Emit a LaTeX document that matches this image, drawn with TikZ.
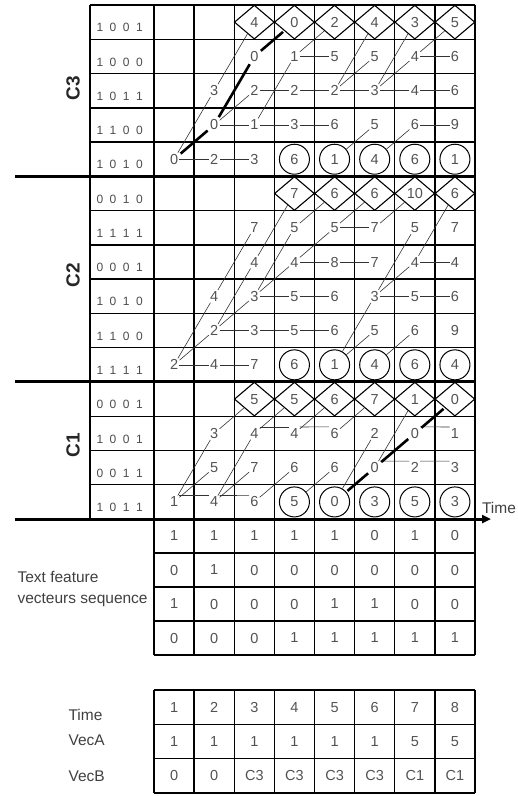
\documentclass[tikz,border=0pt]{standalone}
\usepackage{fontspec}
\setmainfont{Liberation Sans}
\usetikzlibrary{arrows.meta, shapes.geometric}
\tikzset{%
   num/.style={
      inner sep=1.2pt,
      text=black!68,
      font=\fontsize{14.5}{16}\selectfont
   },
   dia/.style={
      num,
      diamond,
      draw=black,
      line width=1.1pt,
      minimum width=40pt,
      minimum height=34pt,
      inner sep=0pt
   },
   ring/.style={
      num,
      circle,
      draw=black,
      line width=1pt,
      minimum size=30pt,
      inner sep=0pt
   },
   bits/.style={
      anchor=west,
      text=black!70,
      font=\fontsize{12}{14}\selectfont,
      execute at begin node={\spaceskip=6.5pt\relax}
   },
   block/.style={
      rotate=90,
      text=black!85,
      font=\fontsize{19}{22}\selectfont\bfseries
   },
   rowname/.style={
      anchor=west,
      text=black!75,
      font=\fontsize{15.5}{21}\selectfont
   },
   gridline/.style={line width=1.4pt, black},
   sepline/.style={line width=3pt, black},
   link/.style={line width=0.6pt, black!80},
   best/.style={line width=2.6pt, black, shorten <=1.5pt, shorten >=1.5pt},
}

\begin{document}
\begin{tikzpicture}[x=1pt, y=-1pt]
  \useasboundingbox (0,0) rectangle (518,796);

  % trellis grid
  \foreach \k in {0,...,15}
    \draw[gridline] (90,{5+34.27*\k}) -- (475,{5+34.27*\k});
  \draw[gridline] (90,5) -- (90,519);
  \foreach \k in {0,...,8}
    \draw[gridline] ({154+40.125*\k},5) -- ({154+40.125*\k},519);
  \draw[sepline] (15,{5+34.27*5}) -- (475,{5+34.27*5});
  \draw[sepline] (15,{5+34.27*11}) -- (475,{5+34.27*11});

  % time axis
  \coordinate (ax0) at (15,519);
  \coordinate (ax1) at (491,519);
  \draw[sepline, -{Triangle[length=9pt, width=8pt]}] (ax0) -- (ax1);
  \node[rowname, anchor=center] (timeaxis) at (499,508) {Time};

  % block names and row codes
  \node[block] (C3) at (73,88) {C3};
  \node[block] (C2) at (73,275) {C2};
  \node[block] (C1) at (73,445) {C1};
  \foreach \r/\b in {1/1 0 0 1, 2/1 0 0 0, 3/1 0 1 1, 4/1 1 0 0, 5/1 0 1 0,
                     6/0 0 1 0, 7/1 1 1 1, 8/0 0 0 1, 9/1 0 1 0, 10/1 1 0 0, 11/1 1 1 1,
                     12/0 0 0 1, 13/1 0 0 1, 14/0 0 1 1, 15/1 0 1 1}
    \node[bits] (code\r) at (93,{5+34.27*(\r-0.5)+5.5}) {\b};

  % cell values
  \foreach \r/\c/\v in {2/3/0, 2/4/1, 2/5/5, 2/6/5, 2/7/4, 2/8/6,
                        3/2/3, 3/3/2, 3/4/2, 3/5/2, 3/6/3, 3/7/4, 3/8/6,
                        4/2/0, 4/3/1, 4/4/3, 4/5/6, 4/6/5, 4/7/6, 4/8/9,
                        5/1/0, 5/2/2, 5/3/3,
                        7/3/7, 7/4/5, 7/5/5, 7/6/7, 7/7/5, 7/8/7,
                        8/3/4, 8/4/4, 8/5/8, 8/6/7, 8/7/4, 8/8/4,
                        9/2/4, 9/3/3, 9/4/5, 9/5/6, 9/6/3, 9/7/5, 9/8/6,
                        10/2/2, 10/3/3, 10/4/5, 10/5/6, 10/6/5, 10/7/6, 10/8/9,
                        11/1/2, 11/2/4, 11/3/7,
                        13/2/3, 13/3/4, 13/4/4, 13/5/6, 13/6/2, 13/7/0, 13/8/1,
                        14/2/5, 14/3/7, 14/4/6, 14/5/6, 14/6/0, 14/7/2, 14/8/3,
                        15/1/1, 15/2/4, 15/3/6}
    \node[num] (n\r-\c) at ({154+40.125*(\c-0.5)},{5+34.27*(\r-0.5)}) {\v};
  \foreach \r/\c/\v in {1/3/4, 1/4/0, 1/5/2, 1/6/4, 1/7/3, 1/8/5,
                        6/4/7, 6/5/6, 6/6/6, 6/7/10, 6/8/6,
                        12/3/5, 12/4/5, 12/5/6, 12/6/7, 12/7/1, 12/8/0}
    \node[dia] (n\r-\c) at ({154+40.125*(\c-0.5)},{5+34.27*(\r-0.5)}) {\v};
  \foreach \r/\c/\v in {5/4/6, 5/5/1, 5/6/4, 5/7/6, 5/8/1,
                        11/4/6, 11/5/1, 11/6/4, 11/7/6, 11/8/4,
                        15/4/5, 15/5/0, 15/6/3, 15/7/5, 15/8/3}
    \node[ring] (n\r-\c) at ({154+40.125*(\c-0.5)},{5+34.27*(\r-0.5)}) {\v};

  % links within a row
  \foreach \r/\a/\b in {2/4/5, 2/7/8, 3/3/4, 3/4/5, 3/5/6, 3/6/7, 3/7/8,
                        4/2/3, 4/3/4, 4/4/5, 4/7/8, 5/1/2, 5/2/3,
                        7/5/6, 8/4/5, 8/5/6, 8/7/8, 9/3/4, 9/4/5, 9/6/7, 9/7/8,
                        10/2/3, 10/3/4, 10/4/5, 11/1/2, 11/2/3}
    \draw[link] (n\r-\a) -- (n\r-\b);
  \foreach \r/\a/\b in {13/3/4, 13/4/5, 13/7/8, 14/6/7, 14/7/8, 15/1/2, 15/2/3}
    \draw[link] (n\r-\a.north east) -- (n\r-\b.north west);

  % links to upper rows
  \foreach \r/\c/\s/\d in {5/1/3/2, 3/2/1/3, 4/2/3/3, 4/3/2/4, 2/4/1/5,
                           3/5/1/6, 3/5/2/6, 3/6/1/7, 3/6/2/7, 2/7/1/8, 5/5/4/6, 5/6/4/7,
                           11/1/9/2, 9/2/7/3, 11/1/10/2, 10/2/8/3, 8/3/6/4, 10/2/9/3,
                           9/3/7/4, 7/4/6/5, 9/3/8/4, 8/4/7/5, 7/5/6/6, 7/6/6/7,
                           11/5/9/6, 9/6/7/7, 11/5/10/6, 9/6/8/7, 8/7/6/8, 11/6/10/7,
                           15/1/13/2, 15/1/14/2, 13/2/12/3, 15/2/13/3, 15/2/14/3, 13/3/12/4,
                           15/3/14/4, 13/4/12/5, 15/4/14/5, 13/5/12/6, 15/5/13/6, 14/6/12/7}
    \draw[link] (n\r-\c) -- (n\s-\d);

  % best paths
  \draw[best] (n5-1) -- (n4-2);
  \draw[best] (n4-2) -- (n2-3);
  \draw[best] (n2-3) -- (n1-4);
  \draw[best] (n15-5) -- (n14-6);
  \draw[best] (n14-6) -- (n13-7);
  \draw[best] (n13-7) -- (n12-8);

  % feature vectors
  \foreach \k in {0,...,8}
    \draw[gridline] ({154+40.125*\k},519) -- ({154+40.125*\k},655);
  \foreach \k in {1,...,4}
    \draw[gridline] (154,{519+34*\k}) -- (475,{519+34*\k});
  \foreach \row [count=\r] in {{1,1,1,1,1,0,1,0},{0,1,0,0,0,0,0,0},
                               {1,0,0,0,1,1,0,0},{0,0,0,1,1,1,1,1}}
    \foreach \v [count=\c] in \row
      \node[num] (f\r-\c) at ({154+40.125*(\c-0.5)},{519+34*(\r-0.5)}) {\v};
  \node[rowname, align=left] (featname) at (14,588.5) {Text feature\\vecteurs sequence};

  % summary table
  \foreach \k in {0,...,8}
    \draw[gridline] ({154+40.125*\k},690) -- ({154+40.125*\k},793);
  \foreach \k in {0,...,3}
    \draw[gridline] (154,{690+34.33*\k}) -- (475,{690+34.33*\k});
  \foreach \row [count=\r] in {{1,2,3,4,5,6,7,8},{1,1,1,1,1,1,5,5},
                               {0,0,C3,C3,C3,C3,C1,C1}}
    \foreach \v [count=\c] in \row
      \node[num] (s\r-\c) at ({154+40.125*(\c-0.5)},{690+34.33*(\r-0.5)}) {\v};
  \node[rowname] (timename) at (65,715) {Time};
  \node[rowname] (vecaname) at (65,740) {VecA};
  \node[rowname] (vecbname) at (65,776) {VecB};
\end{tikzpicture}
\end{document}
